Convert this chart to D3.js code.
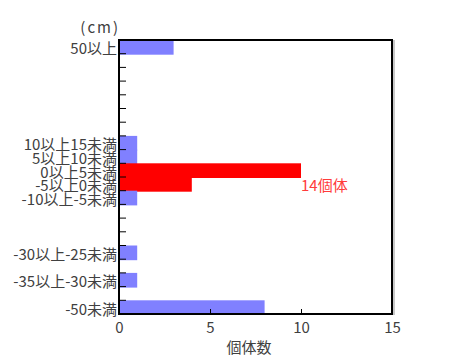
<!DOCTYPE html>
<html>
<head>
<meta charset="utf-8">
<script src="https://cdn.jsdelivr.net/npm/d3@7"></script>
<style>
  body { margin: 0; background: #fff; }
  text { font-family: "Noto Sans CJK JP", "Noto Sans", sans-serif; }
</style>
</head>
<body>
<div id="chart-area"></div>
<script>
// 20 size classes (5cm bins), labelled only where fish were found
const categories = ["50以上", "", "", "", "", "", "", "10以上15未満", "5以上10未満", "0以上5未満",
  "-5以上0未満", "-10以上-5未満", "", "", "", "-30以上-25未満", "", "-35以上-30未満", "", "-50未満"]
const counts = [3, 0, 0, 0, 0, 0, 0, 1, 1, 10, 4, 1, 0, 0, 0, 1, 0, 1, 0, 8]
const highlighted = ["0以上5未満", "-5以上0未満"]
const xTicks = [0, 5, 10, 15]
const noteText = "14個体"

const MARGIN = { LEFT: 119, RIGHT: 83, TOP: 40, BOTTOM: 50 }
const WIDTH = 475 - MARGIN.LEFT - MARGIN.RIGHT
const HEIGHT = 364 - MARGIN.TOP - MARGIN.BOTTOM

const svg = d3.select("#chart-area").append("svg")
  .attr("width", 475)
  .attr("height", 364)

const g = svg.append("g")
  .attr("transform", `translate(${MARGIN.LEFT}, ${MARGIN.TOP})`)

const x = d3.scaleLinear().domain([0, 15]).range([0, WIDTH])
const y = d3.scaleBand().domain(d3.range(categories.length)).range([0, HEIGHT]).padding(0)

// bars
g.selectAll("rect.bar").data(counts)
  .enter().append("rect")
  .attr("class", "bar")
  .attr("x", 0)
  .attr("y", (d, i) => y(i))
  .attr("width", d => x(d))
  .attr("height", y.bandwidth() + 1)
  .attr("fill", (d, i) => highlighted.includes(categories[i]) ? "#ff0000" : "#8080ff")

// inner ticks on the left axis at class boundaries
g.selectAll("line.ytick").data(d3.range(1, categories.length))
  .enter().append("line")
  .attr("class", "ytick")
  .attr("x1", 0).attr("x2", 7)
  .attr("y1", i => y(i)).attr("y2", i => y(i))
  .attr("stroke", "#000").attr("stroke-width", 1)

// category labels
g.selectAll("text.ylab").data(categories)
  .enter().append("text")
  .attr("class", "ylab")
  .attr("x", -2)
  .attr("y", (d, i) => y(i) + y.bandwidth() / 2 + 1)
  .attr("text-anchor", "end")
  .attr("dominant-baseline", "central")
  .attr("font-size", "15px")
  .attr("fill", "#404040")
  .text(d => d)

// bottom axis
const xAxisCall = d3.axisBottom(x).tickValues(xTicks).tickSize(-5).tickPadding(8)
const xAxis = g.append("g")
  .attr("transform", `translate(0, ${HEIGHT})`)
  .call(xAxisCall)
xAxis.select(".domain").remove()
xAxis.selectAll("text").attr("font-size", "15px").attr("fill", "#404040")
  .style("font-family", "'Noto Sans CJK JP', sans-serif")

// frame
g.append("line").attr("x1", WIDTH + 2).attr("x2", WIDTH + 2).attr("y1", 0).attr("y2", HEIGHT + 1)
  .attr("stroke", "#c8c8c8").attr("stroke-width", 2)
g.append("rect")
  .attr("x", 0).attr("y", 0).attr("width", WIDTH).attr("height", HEIGHT)
  .attr("fill", "none").attr("stroke", "#000").attr("stroke-width", 2)

// note for the red bars
g.append("text")
  .attr("x", x(10))
  .attr("y", y(10) + y.bandwidth() / 2 + 1)
  .attr("dominant-baseline", "central")
  .attr("font-size", "15px")
  .attr("fill", "#ff3b3b")
  .text(noteText)

// unit label
svg.append("text")
  .attr("x", 120).attr("y", 33)
  .attr("text-anchor", "end")
  .attr("font-size", "15px")
  .attr("letter-spacing", "2px")
  .attr("fill", "#404040")
  .text("(cm)")

// X label
svg.append("text")
  .attr("x", 249).attr("y", 353)
  .attr("text-anchor", "middle")
  .attr("font-size", "15px")
  .attr("fill", "#404040")
  .text("個体数")
</script>
</body>
</html>
